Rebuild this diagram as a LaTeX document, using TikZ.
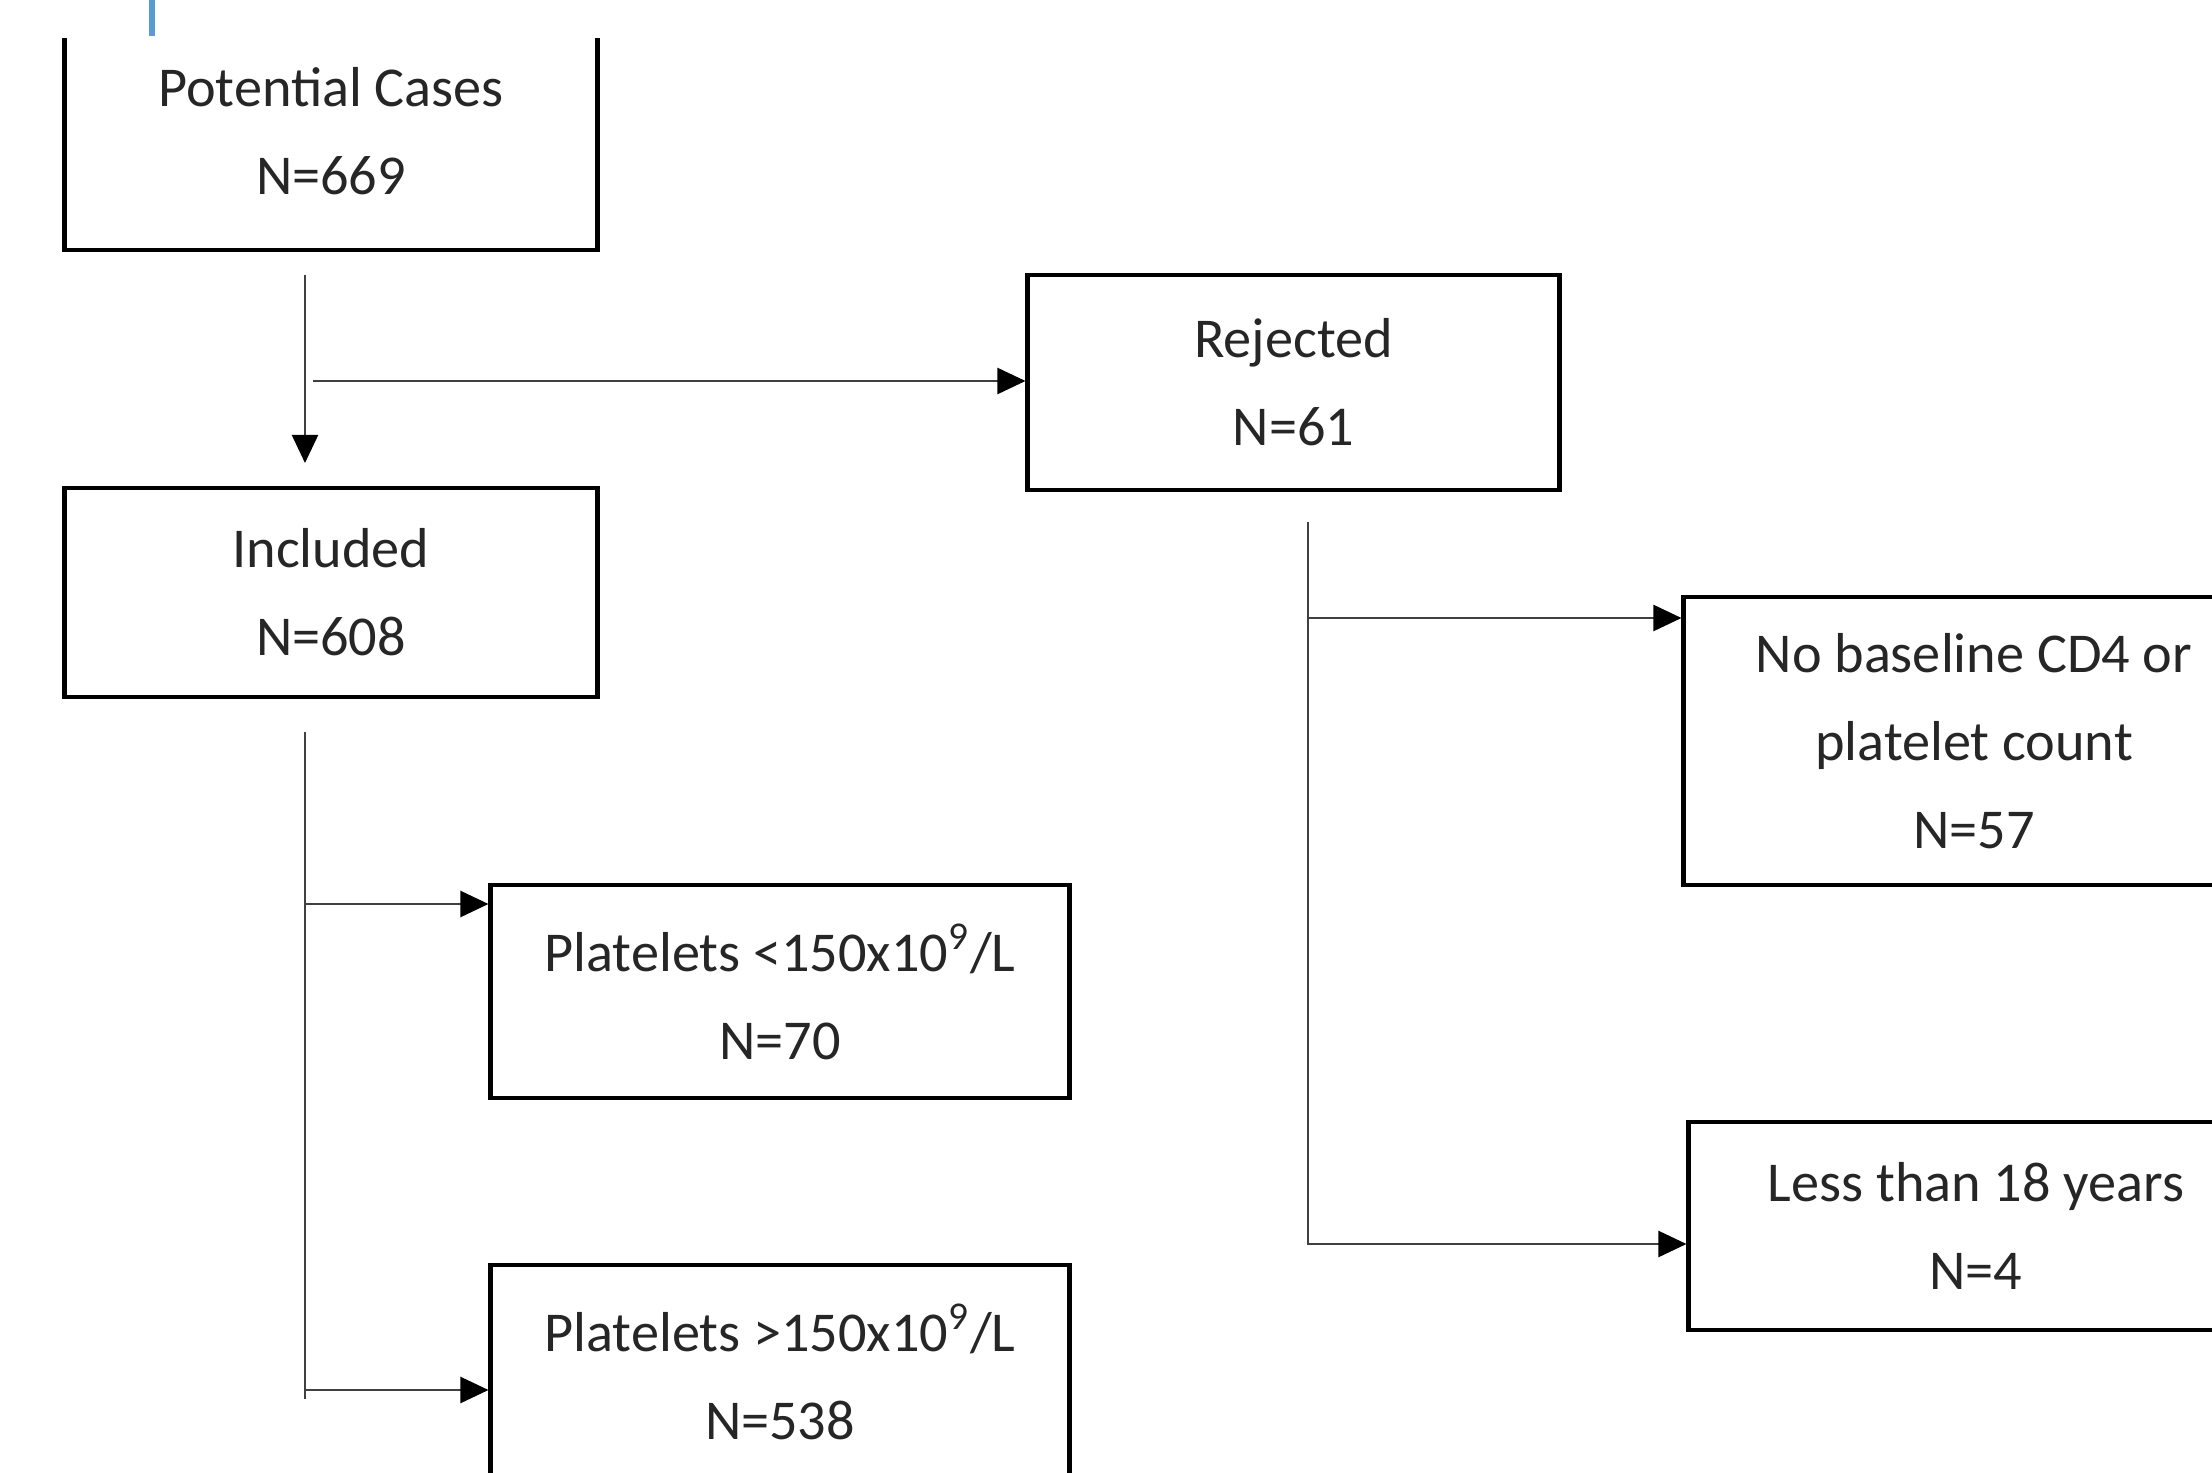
\documentclass[tikz,border=0pt]{standalone}
\usepackage{fontspec}
\setmainfont{Carlito}
\usetikzlibrary{arrows.meta}
\definecolor{cursorc}{RGB}{91,155,213}
\colorlet{linec}{black!75}
\tikzstyle{box} = [
  draw=black,
  line width=1.35pt,
  fill=white,
  align=center,
  inner sep=0pt,
  text=black!85,
  font=\fontsize{16}{25}\selectfont,
]
\tikzstyle{conn} = [
  draw=linec,
  line width=0.65pt,
  -{Triangle[length=0.28cm,width=0.26cm,color=black]},
]

\begin{document}
\begin{tikzpicture}[x=0.01cm,y=-0.01cm]
      \useasboundingbox (0,0) rectangle (2212,1473);

      % Boxes
      \node[box, minimum width=5.32cm, minimum height=2.37cm] (pc) at (331,131.5)
        {Potential Cases\\N=669};
      \node[box, minimum width=5.32cm, minimum height=2.09cm] (inc) at (331,592.5)
        {Included\\N=608};
      \node[box, minimum width=5.31cm, minimum height=2.15cm] (rej) at (1293.5,382.5)
        {Rejected\\N=61};
      \node[box, minimum width=5.78cm, minimum height=2.13cm] (plow) at (780,991.5)
        {Platelets <150x10\textsuperscript{9}/L\\N=70};
      \node[box, minimum width=5.78cm, minimum height=2.13cm] (phigh) at (780,1371.5)
        {Platelets >150x10\textsuperscript{9}/L\\N=538};
      \node[box, minimum width=5.80cm, minimum height=2.88cm] (nobase) at (1974,741)
        {No baseline CD4 or\\platelet count\\N=57};
      \node[box, minimum width=5.74cm, minimum height=2.08cm] (young) at (1976,1226)
        {Less than 18 years\\N=4};

      % Cropped top edge
      \fill[white] (0,0) rectangle (2212,38);
      \draw[cursorc, line width=1.5pt] (152,0) -- (152,36);

      % Arrows
      \coordinate (a1) at (305,275);
      \coordinate (a2) at (305,463);
      \coordinate (a3) at (313,381);
      \draw[conn] (a1) -- (a2);
      \draw[conn] (a3) -- (a3 -| rej.west);

      \coordinate (b1) at (305,732);
      \coordinate (b2) at (305,1399);
      \coordinate (b3) at (305,904);
      \coordinate (b4) at (305,1390);
      \draw[conn, -] (b1) -- (b2);
      \draw[conn] (b3) -- (b3 -| plow.west);
      \draw[conn] (b4) -- (b4 -| phigh.west);

      \coordinate (c1) at (1308,522);
      \coordinate (c2) at (1308,1244);
      \coordinate (c3) at (1308,618);
      \draw[conn] (c1) -- (c2) -- (c2 -| young.west);
      \draw[conn] (c3) -- (c3 -| nobase.west);
    \end{tikzpicture}
\end{document}
